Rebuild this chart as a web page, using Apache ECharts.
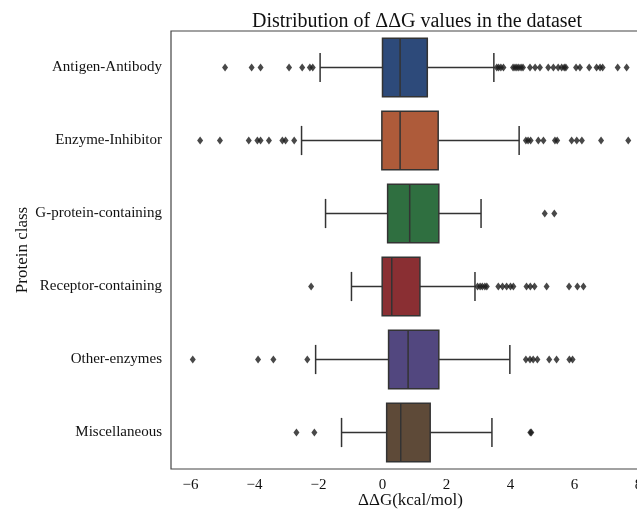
<!DOCTYPE html>
<html>
<head>
<meta charset="utf-8">
<script src="https://cdn.jsdelivr.net/npm/echarts@6/dist/echarts.min.js"></script>
<style>
  * { margin: 0; padding: 0; }
  #chart { width: 637px; height: 509px; background: #fff; }
</style>
</head>
<body>
<div id="chart"></div>
<script>
// protein classes, top to bottom
const categories = [
  "Antigen-Antibody",
  "Enzyme-Inhibitor",
  "G-protein-containing",
  "Receptor-containing",
  "Other-enzymes",
  "Miscellaneous",
];

// box statistics (kcal/mol)
const whiskerLow = [-1.95, -2.53, -1.78, -0.97, -2.09, -1.28];
const q1 = [0.0, -0.02, 0.16, -0.01, 0.19, 0.13];
const medians = [0.55, 0.55, 0.85, 0.29, 0.8, 0.57];
const q3 = [1.4, 1.74, 1.76, 1.17, 1.76, 1.49];
const whiskerHigh = [3.48, 4.27, 3.08, 2.89, 3.98, 3.42];

// fliers per class
const outliers = [
  [-4.92, -4.09, -3.81, -2.92, -2.51, -2.27, -2.18,
   3.57, 3.63, 3.7, 3.78, 4.08, 4.14, 4.2, 4.26, 4.33, 4.39, 4.61, 4.77, 4.92,
   5.18, 5.34, 5.49, 5.6, 5.68, 5.73, 6.05, 6.17, 6.46, 6.69, 6.8, 6.88, 7.35, 7.63],
  [-5.7, -5.08, -4.18, -3.91, -3.81, -3.55, -3.13, -3.03, -2.76,
   4.48, 4.55, 4.63, 4.87, 5.03, 5.39, 5.46, 5.91, 6.07, 6.23, 6.83, 7.68],
  [5.07, 5.37],
  [-2.23, 2.97, 3.05, 3.12, 3.2, 3.26, 3.62, 3.75, 3.88, 4.0, 4.09,
   4.5, 4.62, 4.75, 5.13, 5.83, 6.09, 6.28],
  [-5.93, -3.89, -3.41, -2.35, 4.48, 4.61, 4.71, 4.84, 5.21, 5.44, 5.84, 5.94],
  [-2.69, -2.13, 4.62, 4.65],
];

const boxColors = ["#2d4a7a", "#ae5b3a", "#2f6f40", "#8a2f33", "#52477f", "#5e4a38"];
const lineColor = "#333333";

const boxData = categories.map((c, i) => [i, whiskerLow[i], q1[i], medians[i], q3[i], whiskerHigh[i]]);
const flierData = [];
outliers.forEach((list, i) => list.forEach((v) => flierData.push([v, i])));

function renderBox(params, api) {
  const cat = api.value(0);
  const lo = api.coord([api.value(1), cat]);
  const a = api.coord([api.value(2), cat]);
  const m = api.coord([api.value(3), cat]);
  const b = api.coord([api.value(4), cat]);
  const hi = api.coord([api.value(5), cat]);
  const band = api.size([0, 1])[1];
  const half = band * 0.4;
  const cap = band * 0.2;
  const y = lo[1];
  const line = { stroke: lineColor, lineWidth: 1.5 };
  return {
    type: "group",
    children: [
      { type: "line", shape: { x1: lo[0], y1: y, x2: a[0], y2: y }, style: line },
      { type: "line", shape: { x1: b[0], y1: y, x2: hi[0], y2: y }, style: line },
      { type: "line", shape: { x1: lo[0], y1: y - cap, x2: lo[0], y2: y + cap }, style: line },
      { type: "line", shape: { x1: hi[0], y1: y - cap, x2: hi[0], y2: y + cap }, style: line },
      {
        type: "rect",
        shape: { x: a[0], y: y - half, width: b[0] - a[0], height: half * 2 },
        style: { fill: boxColors[params.dataIndex], stroke: lineColor, lineWidth: 1.5 },
      },
      { type: "line", shape: { x1: m[0], y1: y - half, x2: m[0], y2: y + half }, style: line },
    ],
  };
}

const chart = echarts.init(document.getElementById("chart"));
const serif = "Liberation Serif, Times New Roman, serif";

chart.setOption({
  animation: false,
  title: {
    text: "Distribution of ΔΔG values in the dataset",
    left: 412,
    textAlign: "center",
    top: 7,
    textStyle: { fontFamily: serif, fontSize: 20, fontWeight: "normal", color: "#111" },
  },
  grid: {
    left: 171,
    right: -13,
    top: 31,
    bottom: 40,
    outerBoundsMode: "none",
    containLabel: false,
    show: true,
    borderColor: "#444",
    borderWidth: 1.2,
  },
  xAxis: {
    type: "value",
    min: -6.61,
    max: 8.36,
    splitNumber: 7,
    name: "ΔΔG(kcal/mol)",
    nameLocation: "middle",
    nameGap: 23,
    nameMoveOverlap: false,
    nameTextStyle: { fontFamily: serif, fontSize: 17, color: "#111" },
    axisLine: { show: false },
    axisTick: { show: false },
    splitLine: { show: false },
    axisLabel: {
      showMinLabel: false,
      showMaxLabel: false,
      margin: 9,
      fontFamily: serif,
      fontSize: 15,
      color: "#111",
      formatter: (v) => String(v).replace("-", "\u2212"),
    },
  },
  yAxis: {
    type: "category",
    data: categories,
    inverse: true,
    name: "Protein class",
    nameLocation: "middle",
    nameGap: 140,
    nameMoveOverlap: false,
    nameTextStyle: { fontFamily: serif, fontSize: 17, color: "#111" },
    axisLine: { show: false },
    axisTick: { show: false },
    splitLine: { show: false },
    axisLabel: { margin: 9, fontFamily: serif, fontSize: 15, color: "#111" },
  },
  series: [
    {
      type: "custom",
      renderItem: renderBox,
      encode: { x: [1, 2, 3, 4, 5], y: 0 },
      data: boxData,
      z: 2,
    },
    {
      type: "scatter",
      symbol: "diamond",
      symbolSize: [6, 8],
      itemStyle: { color: "#1a1a1a" },
      data: flierData,
      z: 3,
    },
  ],
});
</script>
</body>
</html>
